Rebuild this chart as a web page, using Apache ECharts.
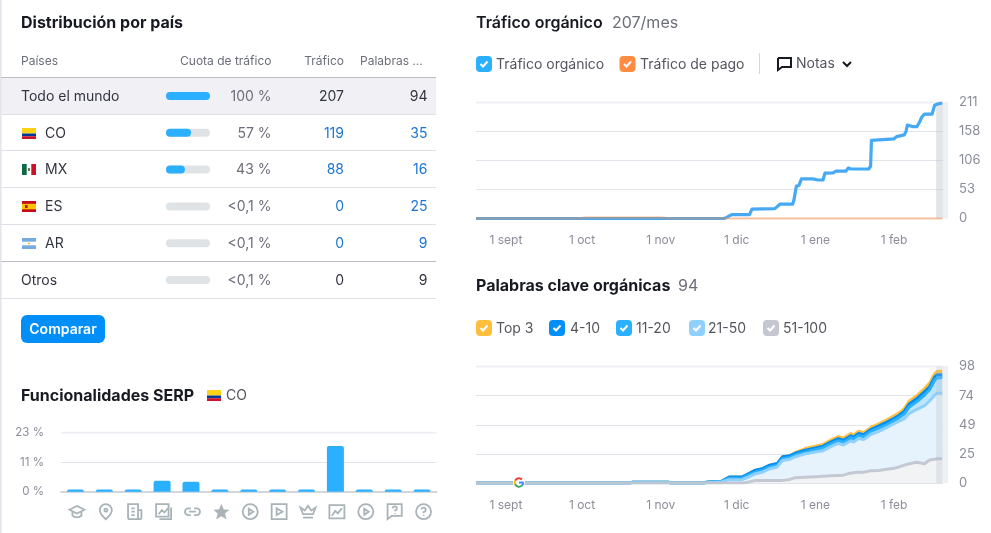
<!DOCTYPE html>
<html><head><meta charset="utf-8">
<style>html,body{margin:0;padding:0;background:#fff}#c{width:991px;height:533px}</style>
<script src="https://cdn.jsdelivr.net/npm/echarts@6/dist/echarts.min.js"></script>
</head><body><div id="c"></div>
<script>
// ---------- data ----------
const tableHeaders = ['Países','Cuota de tráfico','Tráfico','Palabras ...'];
const countries = ['Todo el mundo','CO','MX','ES','AR','Otros'];
const shareValues = [100,57,43,0.1,0.1,0.1];
const shareLabels = ['100 %','57 %','43 %','<0,1 %','<0,1 %','<0,1 %'];
const trafficCol = [207,119,88,0,0,0];
const keywordCol = [94,35,16,25,9,9];

const serpFeatures = ['Panel de conocimiento','Paquete local','Noticias principales','Paquete de imágenes','Enlaces de sitio','Reseñas','Vídeo','Vídeo destacado','Resultados destacados','Miniatura de imagen','Carrusel de vídeos','Preguntas relacionadas','Preguntas frecuentes'];
const serpValues = [0.9,0.9,0.9,4.3,3.9,0.9,0.9,0.9,0.9,17.8,0.9,0.9,0.9];

const trafficDates = ['2022-08-20 05:00','2022-11-26','2022-11-27','2022-11-29','2022-12-06','2022-12-07','2022-12-16','2022-12-18','2022-12-23','2022-12-23 12:00','2022-12-24 12:00','2022-12-25 12:00','2022-12-26 12:00','2022-12-31','2023-01-02','2023-01-04','2023-01-04 18:00','2023-01-08','2023-01-09','2023-01-13','2023-01-14','2023-01-15','2023-01-22','2023-01-22 18:00','2023-01-23 02:00','2023-01-26','2023-02-01','2023-02-02','2023-02-05','2023-02-05 18:00','2023-02-06 06:00','2023-02-07','2023-02-08 12:00','2023-02-10','2023-02-11','2023-02-12','2023-02-13','2023-02-16','2023-02-17','2023-02-18','2023-02-20'];
const organicValues = [0,0,2,7,7,17,18,26,26,33,59,60,72,72,70,70,82.5,83,86,86,92,90,90,95,142,143,145,149,152,159,170,171,167,167,175,185,190,190,206,208,210];
const paidDates = ['2022-08-20 05:00','2022-10-01','2022-10-02','2022-11-02','2022-11-03','2023-02-20'];
const paidValues = [0,0,2,2,0,0];

const kwDates = ['2022-08-20 05:00','2022-10-20','2022-10-21','2022-11-04','2022-11-05','2022-11-18','2022-11-19','2022-11-25','2022-11-28','2022-12-03','2022-12-05','2022-12-08','2022-12-11','2022-12-14','2022-12-17','2022-12-19','2022-12-22','2022-12-24','2022-12-28','2023-01-01','2023-01-04','2023-01-07','2023-01-10','2023-01-12','2023-01-15','2023-01-16','2023-01-18','2023-01-20','2023-01-23','2023-01-26','2023-01-29','2023-02-01','2023-02-03','2023-02-05','2023-02-07','2023-02-10','2023-02-13','2023-02-15','2023-02-17','2023-02-18','2023-02-20'];
const kw51to100 = [0,0,0,0,0,0,0,0,0,0,.5,2,2,2,2,2.2,3,4.5,4.8,5.2,5.6,6,6.4,6.6,8.5,8.7,9,9,10.4,10.6,11.6,12.4,13.5,15,16.2,17.4,16.2,19.3,20,20.4,20.4];
const kw21to50 = [0,0,.3,.3,0,0,.3,.8,2.8,2.8,4,5.5,7,10,11.5,16.8,17,17.5,19.7,20.8,21.6,24.5,26.9,25.4,27,25.8,28.5,27.5,30.6,32.9,34.9,37.6,38.5,39,42.3,44.6,48.8,49.7,54,55,55];
const kw11to20 = [0,0,.4,.4,0,0,.4,.7,1.2,1.2,1.5,1.5,1.5,1.5,1.5,1.5,1.5,1.5,1.5,2,2.3,2.3,2.3,2.3,2.5,2.3,2.5,2.4,2.5,2.7,2.5,2.5,3,4,5.5,6.5,9,9.5,12.5,13.1,13.1];
const kw4to10 = [0,0,0,0,0,0,0,0,1,1,1,1.5,1.5,1.5,1.5,1.5,1.5,1.5,1.5,1.5,1.5,1.6,1.7,1.7,1.7,1.7,1.7,1.7,1.7,1.8,2,2,2,2.3,2.5,2.5,2.8,2.5,2.5,2.5,2.5];
const kwTop3 = [0,0,0,0,0,0,0,0,0,0,0,0,0,0,0,0,0,.5,1.5,1.5,1.5,1.6,1.7,1.8,1.8,1.8,1.8,1.8,1.8,1.8,2,2,2,2.2,2.5,2.5,2.7,3,3,3,3];

const monthNames = ['ene','feb','mar','abr','may','jun','jul','ago','sept','oct','nov','dic'];
const axisStart = '2022-08-20 05:00', axisEnd = '2023-02-20 07:00';

// ---------- helpers ----------
const FONT = 'Inter, "Noto Sans", sans-serif';
const C = {ink:'#171a22', body:'#333640', mute:'#6c6e79', axis:'#8b8d99', link:'#1b75d0', line:'#dfe1e8', dark:'#b8bcc6'};
const gfx = [];
function txt(x,y,text,o={}){gfx.push({type:'text',z:20,x,y:y+1,style:{text,font:`${o.w||400} ${o.s||14}px ${FONT}`,fill:o.c||C.body,textAlign:o.a||'left',textVerticalAlign:'middle',textBaseline:'middle'}});}
function rect(x,y,w,h,fill,r,z){gfx.push({type:'rect',z:z===undefined?1:z,shape:{x,y,width:w,height:h,r:r||0},style:{fill}});}
function hline(y,c){gfx.push({type:'line',z:1,shape:{x1:1,y1:y,x2:436,y2:y},style:{stroke:c,lineWidth:1}});}
function flag(x,y,code){
  const w=14,h=11;
  if(code==='CO'){rect(x,y,w,5.5,'#fcd116',0,21);rect(x,y+5.5,w,2.8,'#003893',0,21);rect(x,y+8.3,w,2.7,'#ce1126',0,21);}
  if(code==='MX'){rect(x,y,w,h,'#ffffff',0,21);rect(x,y,4.7,h,'#0b6b47',0,21);rect(x+9.3,y,4.7,h,'#ce1126',0,21);rect(x+6,y+4,2,3,'#8c6b4a',0,21);}
  if(code==='ES'){rect(x,y,w,h,'#c60b1e',0,21);rect(x,y+2.8,w,5.5,'#ffc400',0,21);rect(x+3,y+4,2.5,3,'#ad1519',0,21);}
  if(code==='AR'){rect(x,y,w,h,'#ffffff',0,21);rect(x,y,w,3.7,'#74acdf',0,21);rect(x,y+7.3,w,3.7,'#74acdf',0,21);rect(x+6,y+4.5,2,2,'#f6b40e',1,21);}
}
function checkbox(x,y,color,label,lx){
  rect(x,y,16,16,color,4,20);
  gfx.push({type:'polyline',z:21,shape:{points:[[x+4.5,y+8],[x+7,y+10.5],[x+11.5,y+5.5]]},style:{stroke:'#fff',lineWidth:2,fill:null}});
  txt(lx,y+7.5,label,{c:'#55565f'});
}

// ---------- page furniture ----------
rect(0,0,1.5,533,'#e3e4ea',0,1);
txt(21,22,'Distribución por país',{s:16,w:700,c:C.ink});
txt(21,60,tableHeaders[0],{s:12,c:C.mute});
txt(271.5,60,tableHeaders[1],{s:12,c:C.mute,a:'right'});
txt(344,60,tableHeaders[2],{s:12,c:C.mute,a:'right'});
txt(360,60,tableHeaders[3],{s:12,c:C.mute});
rect(1,78,435,36,'#f0f0f5',0,0);
[114.5,150.5,187.5,224.5,298.5].forEach(y=>hline(y,C.line));
[77.5,261.5].forEach(y=>hline(y,C.dark));
const rowY=[95.5,132.5,168.5,205.5,242.5,279.5];
countries.forEach((name,i)=>{
  const y=rowY[i], isCountry=i>0&&i<5;
  if(isCountry){flag(22,y-4.5,name);txt(45,y,name);} else txt(21,y,name);
  txt(271.5,y,shareLabels[i],{c:C.mute,a:'right'});
  txt(344,y,String(trafficCol[i]),{a:'right',c:isCountry?C.link:C.body});
  txt(427.5,y,String(keywordCol[i]),{a:'right',c:isCountry?C.link:C.body});
});
rect(21,315,84,28,'#008ff8',6,20);
txt(63,329,'Comparar',{w:600,c:'#fff',a:'center'});
txt(21,395,'Funcionalidades SERP',{s:16,w:700,c:C.ink});
flag(207,390,'CO');
txt(226,395,'CO',{c:'#55565f'});

txt(476,22,'Tráfico orgánico',{s:16,w:600,c:C.ink});
txt(612,22,'207/mes',{s:16,c:C.mute});
checkbox(476,56,'#2bb0ff','Tráfico orgánico',496);
checkbox(619.5,56,'#ff8c43','Tráfico de pago',640);
gfx.push({type:'line',z:1,shape:{x1:759.5,y1:53,x2:759.5,y2:74},style:{stroke:'#d5d7de',lineWidth:1}});
gfx.push({type:'polyline',z:21,shape:{points:[[778,58],[791,58],[791,67],[782,67],[778,70],[778,58]]},style:{stroke:C.ink,lineWidth:2,fill:null}});
txt(796,63,'Notas',{c:'#55565f'});
gfx.push({type:'polyline',z:21,shape:{points:[[843,62],[847,66],[851,62]]},style:{stroke:C.ink,lineWidth:2,fill:null}});

txt(476,285.5,'Palabras clave orgánicas',{s:16,w:700,c:C.ink});
txt(678,285.5,'94',{s:16,c:C.mute});
checkbox(476,320,'#ffbf3d','Top 3',496);
checkbox(549,320,'#008ff8','4-10',570);
checkbox(616,320,'#2bb0ff','11-20',636);
checkbox(689,320,'#8fd0ff','21-50',708);
checkbox(763,320,'#c4c7cf','51-100',783);

// light strip right of the plots, heavier top rules
rect(943,102,5,116.5,'#eef1f3',0,1);
rect(943,366,5,117,'#eef1f3',0,1);
[[476,943,102.5],[476,943,366.5],[61,436,432.7]].forEach(([a,b,y])=>gfx.push({type:'line',z:1,shape:{x1:a,y1:y,x2:b,y2:y},style:{stroke:'#eff0f5',lineWidth:2}}));

// Google mark
const gx=519,gy=482.5,gr=4.2;
gfx.push({type:'circle',z:30,shape:{cx:gx,cy:gy,r:6},style:{fill:'#fff'}});
[['#ea4335',3.6,5.5],['#fbbc05',2.7,3.6],['#34a853',0.9,2.7],['#4285f4',0,0.9]].forEach(([c,a,b])=>gfx.push({type:'arc',z:31,shape:{cx:gx,cy:gy,r:gr,startAngle:a,endAngle:b,clockwise:true},style:{stroke:c,lineWidth:2,fill:null}}));
gfx.push({type:'line',z:31,shape:{x1:gx,y1:gy,x2:gx+4.5,y2:gy},style:{stroke:'#4285f4',lineWidth:2}});

// SERP icons (one per category)
const icons=[
 'M2 9L12 4L22 9L12 14Z M6 12V17C9 20 15 20 18 17V12',
 'M12 2C7 2 4 6 4 10C4 15 12 22 12 22C12 22 20 15 20 10C20 6 17 2 12 2Z M12 8A2 2 0 1 0 12.01 8Z',
 'M4 3H16V21H6A2 2 0 0 1 4 19Z M8 8H12 M8 12H12 M8 16H12 M16 10H20V19A2 2 0 0 1 18 21H16',
 'M3 3H18V18H3Z M6 15L10 10L13 13L18 7 M21 7V21H7',
 'M10 8H7A4 4 0 0 0 7 16H10 M14 8H17A4 4 0 0 1 17 16H14 M8 12H16',
 'M12 2L15 9L22 9.5L16.5 14L18.5 21.5L12 17.5L5.5 21.5L7.5 14L2 9.5L9 9Z',
 'M12 2A10 10 0 1 0 12 22A10 10 0 1 0 12 2Z M10 8L16 12L10 16Z',
 'M3 3H21V21H3Z M9 8L16 12L9 16Z',
 'M3 9L8 12.5L12 7L16 12.5L21 9L18 17H6Z M6 21H18',
 'M3 4H21V20H3Z M6 17L10 11L13 14L18 8',
 'M12 2A10 10 0 1 0 12 22A10 10 0 1 0 12 2Z M10 8L16 12L10 16Z',
 'M4 3H21V17H9L4 21Z M10 8A2.5 2.5 0 1 1 13 10.5V11.5 M13 13.5V14.5',
 'M12 2A10 10 0 1 0 12 22A10 10 0 1 0 12 2Z M9 9A3 3 0 1 1 12 12.5V14 M12 16V17.5'
];

// ---------- chart ----------
const chart = echarts.init(document.getElementById('c'),null,{width:991,height:533});
const zip=(a,b)=>a.map((d,i)=>[d,b[i]]);
const yLabel={color:C.axis,fontFamily:FONT,fontSize:13,margin:16,padding:[0,0,2,0]};
const split={show:true,lineStyle:{color:'#e3e4eb',width:1}};
function timeX(gridIndex){return {type:'time',gridIndex,min:axisStart,max:axisEnd,splitNumber:7,axisLine:{show:false},axisTick:{show:false},splitLine:{show:false},
  axisLabel:{color:C.axis,fontFamily:FONT,fontSize:12,margin:16,hideOverlap:false,showMinLabel:true,showMaxLabel:true,
    formatter:v=>{const d=new Date(v);return d.getDate()===1&&d.getHours()===0?`1 ${monthNames[d.getMonth()]}`:'';}}};}
function kwSeries(name,data,color,z,areaColor){return {name,type:'line',xAxisIndex:3,yAxisIndex:3,stack:'kw',symbol:'none',z,data:zip(kwDates,data),
  lineStyle:{color,width:3,join:'round'},itemStyle:{color},areaStyle:{color:areaColor,opacity:1}};}

chart.setOption({
  animation:false,
  grid:[
    {left:166,top:77.6,width:44,height:220.8},
    {left:61,top:432.7,width:375.5,height:59},
    {left:476,top:102.5,width:467,height:116},
    {left:476,top:366.5,width:467,height:116.5}
  ],
  xAxis:[
    {type:'value',gridIndex:0,min:0,max:100,show:false},
    {type:'category',gridIndex:1,data:serpFeatures,axisTick:{show:false},axisLabel:{show:false},axisLine:{lineStyle:{color:'#d3d6dd',width:2}}},
    timeX(2),timeX(3)
  ],
  yAxis:[
    {type:'category',gridIndex:0,inverse:true,data:countries,show:false},
    {type:'value',gridIndex:1,min:0,max:23,interval:11.5,axisLine:{show:false},axisTick:{show:false},splitLine:split,
      axisLabel:{color:C.axis,fontFamily:FONT,fontSize:11.5,margin:17,formatter:v=>Math.floor(v)+' %'}},
    {type:'value',gridIndex:2,position:'right',min:0,max:211,interval:52.75,axisLine:{show:false},axisTick:{show:false},splitLine:split,
      axisLabel:Object.assign({},yLabel,{formatter:v=>String(Math.round(v))})},
    {type:'value',gridIndex:3,position:'right',min:0,max:98,interval:24.5,axisLine:{show:false},axisTick:{show:false},splitLine:split,
      axisLabel:Object.assign({},yLabel,{formatter:v=>String(Math.round(v))})}
  ],
  series:[
    {name:'Cuota de tráfico',type:'bar',xAxisIndex:0,yAxisIndex:0,barWidth:8,data:shareValues,showBackground:true,
      backgroundStyle:{color:'#dfe3e5',borderRadius:4},itemStyle:{color:'#2bb0ff',borderRadius:4}},
    {name:'Funcionalidades SERP',type:'bar',xAxisIndex:1,yAxisIndex:1,barWidth:17,data:serpValues,itemStyle:{color:'#2bb0ff',borderRadius:[2,2,0,0]}},
    {name:'Iconos',type:'custom',xAxisIndex:1,yAxisIndex:1,data:serpFeatures.map((f,i)=>[i,0]),silent:true,clip:false,
      renderItem:(params,api)=>{
        const i=api.value(0), p=api.coord([i,0]), filled=i===5;
        return {type:'path',shape:{pathData:icons[i],layout:'center',x:p[0]-6,y:p[1]+12.5,width:15,height:15},
          style:{fill:filled?'#a9b3b8':'none',stroke:'#a9b3b8',lineWidth:filled?0.5:1.8}};
      }},
    {name:'Tráfico orgánico',type:'line',xAxisIndex:2,yAxisIndex:2,symbol:'none',z:3,data:zip(trafficDates,organicValues),
      lineStyle:{color:'#45a9f4',width:3.2,join:'round'},itemStyle:{color:'#45a9f4'},
      markArea:{silent:true,itemStyle:{color:'rgba(190,200,206,0.45)'},data:[[{xAxis:'2023-02-17 14:00'},{xAxis:axisEnd}]]}},
    {name:'Tráfico de pago',type:'line',xAxisIndex:2,yAxisIndex:2,symbol:'none',z:4,data:zip(paidDates,paidValues),
      lineStyle:{color:'rgba(255,138,61,0.4)',width:2.5},itemStyle:{color:'#ff8c43'}},
    Object.assign(kwSeries('51-100',kw51to100,'rgba(192,196,206,0.92)',8,'#f2f3f5'),
      {markArea:{silent:true,z:9,itemStyle:{color:'rgba(170,185,195,0.25)'},data:[[{xAxis:'2023-02-17 14:00'},{xAxis:axisEnd}]]}}),
    kwSeries('21-50',kw21to50,'#8fd0ff',7,'#e6f3fd'),
    kwSeries('11-20',kw11to20,'#2bb0ff',6,'#bfe5fc'),
    kwSeries('4-10',kw4to10,'#008ff8',5,'#5cb9fa'),
    kwSeries('Top 3',kwTop3,'#ffbf3d',4,'#ffd98a')
  ],
  graphic:{elements:gfx}
});
</script></body></html>
